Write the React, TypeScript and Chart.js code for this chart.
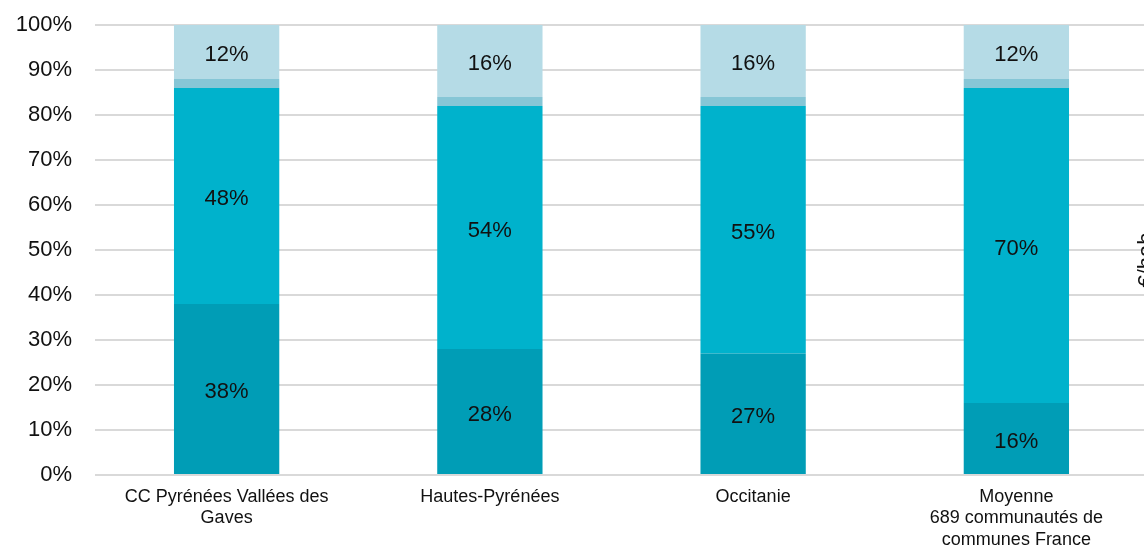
import React, { useEffect, useRef } from "react";
import { Chart, registerables } from "chart.js";

Chart.register(...registerables);

// Territories compared
const categories: string[][] = [
  ["CC Pyrénées Vallées des", "Gaves"],
  ["Hautes-Pyrénées"],
  ["Occitanie"],
  ["Moyenne", "689 communautés de", "communes France"],
];

// Shares (%) per segment, stacked from bottom to top
const segmentBottom = [38, 28, 27, 16];
const segmentMiddle = [48, 54, 55, 70];
const segmentThin = [2, 2, 2, 2];
const segmentTop = [12, 16, 16, 12];

const yTicks = [0, 10, 20, 30, 40, 50, 60, 70, 80, 90, 100];

const FONT = '"Liberation Sans", Arial, Helvetica, sans-serif';
const CANVAS_W = 1200;
const CANVAS_H = 547;

const valueLabels = {
  id: "valueLabels",
  afterDatasetsDraw(chart: any) {
    const ctx = chart.ctx;
    ctx.save();
    ctx.font = `22px ${FONT}`;
    ctx.fillStyle = "#111111";
    ctx.textAlign = "center";
    ctx.textBaseline = "middle";
    chart.data.datasets.forEach((ds: any, i: number) => {
      if (!ds.showValue) return;
      const meta = chart.getDatasetMeta(i);
      meta.data.forEach((bar: any, j: number) => {
        const y = (bar.y + bar.base) / 2;
        ctx.fillText(`${ds.data[j]}%`, bar.x, y + 3);
      });
    });
    ctx.restore();
  },
};

const sideTitle = {
  id: "sideTitle",
  afterDraw(chart: any) {
    const ctx = chart.ctx;
    ctx.save();
    ctx.translate(1153, 260);
    ctx.rotate(-Math.PI / 2);
    ctx.font = `22px ${FONT}`;
    ctx.fillStyle = "#111111";
    ctx.textAlign = "center";
    ctx.textBaseline = "alphabetic";
    ctx.fillText("€/hab", 0, 0);
    ctx.restore();
  },
};

export default function App() {
  const canvasRef = useRef<HTMLCanvasElement | null>(null);

  useEffect(() => {
    document.body.style.margin = "0";
    const canvas = canvasRef.current;
    if (!canvas) return;
    const chart = new Chart(canvas, {
      type: "bar",
      data: {
        labels: categories,
        datasets: [
          { data: segmentBottom, backgroundColor: "#009db6", showValue: true } as any,
          { data: segmentMiddle, backgroundColor: "#00b2cc", showValue: true } as any,
          { data: segmentThin, backgroundColor: "#86c6d6", showValue: false } as any,
          { data: segmentTop, backgroundColor: "#b5dbe6", showValue: true } as any,
        ],
      },
      options: {
        responsive: false,
        animation: false,
        devicePixelRatio: 1,
        layout: { padding: { top: 25, right: 52, bottom: 0, left: 0 } },
        datasets: {
          bar: { barPercentage: 0.4, categoryPercentage: 1, borderWidth: 0 },
        },
        plugins: {
          legend: { display: false },
          tooltip: { enabled: false },
        },
        scales: {
          x: {
            stacked: true,
            grid: { display: false, drawTicks: false },
            border: { display: false },
            ticks: {
              color: "#111111",
              padding: 11,
              maxRotation: 0,
              autoSkip: false,
              font: { family: FONT, size: 18, lineHeight: 1.2 },
            },
            afterFit(scale: any) {
              scale.height = 72;
            },
          },
          y: {
            stacked: true,
            min: 0,
            max: 100,
            afterBuildTicks(scale: any) {
              scale.ticks = yTicks.map((v) => ({ value: v }));
            },
            grid: { color: "#d9d9d9", lineWidth: 2, drawTicks: false },
            border: { display: false },
            ticks: {
              color: "#111111",
              padding: 23,
              font: { family: FONT, size: 22 },
              callback: (v: any) => `${v}%`,
            },
            afterFit(scale: any) {
              scale.width = 95;
              scale.paddingTop = 0;
              scale.paddingBottom = 0;
            },
          },
        },
      },
      plugins: [valueLabels, sideTitle],
    });
    return () => chart.destroy();
  }, []);

  return (
    <div style={{ width: 1144, height: CANVAS_H, overflow: "hidden", position: "relative", background: "#ffffff" }}>
      <canvas ref={canvasRef} width={CANVAS_W} height={CANVAS_H} style={{ width: CANVAS_W, height: CANVAS_H, display: "block" }} />
    </div>
  );
}
